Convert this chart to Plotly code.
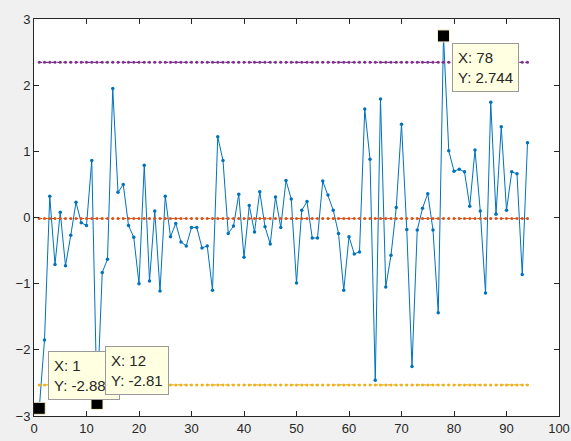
import plotly.graph_objects as go

# ---- data ----
x_vals = list(range(1, 95))
y_vals = [
    -2.884, -1.85, 0.32, -0.71, 0.08, -0.73, -0.27, 0.23, -0.08, -0.12,
    0.86, -2.81, -0.83, -0.63, 1.95, 0.38, 0.50, -0.12, -0.30, -1.00,
    0.79, -0.96, 0.10, -1.11, 0.32, -0.29, -0.09, -0.37, -0.43, -0.15,
    -0.15, -0.46, -0.43, -1.10, 1.22, 0.86, -0.24, -0.13, 0.35, -0.60,
    0.18, -0.22, 0.39, -0.14, -0.40, 0.31, -0.15, 0.56, 0.28, -0.99,
    0.11, 0.24, -0.31, -0.31, 0.55, 0.34, 0.11, -0.24, -1.10, -0.29,
    -0.55, -0.52, 1.64, 0.88, -2.46, 1.79, -1.05, -0.57, 0.15, 1.41,
    -0.18, -2.25, -0.19, 0.14, 0.36, -0.19, -1.44, 2.744, 1.01, 0.70,
    0.73, 0.69, 0.17, 1.02, 0.10, -1.14, 1.74, 0.05, 1.37, 0.11,
    0.69, 0.66, -0.86, 1.13,
]
mean_level = -0.015
lower_level = -2.53
upper_level = 2.345
tip_indices = [1, 12, 78]

x_ticks = list(range(0, 101, 10))
y_ticks = list(range(-3, 4))

# ---- styles ----
BLUE = "#0072BD"
RED = "#D95319"
YELLOW = "#EDB120"
PURPLE = "#7E2F8E"
AXC = "#262626"
BG = "#F0F0F0"
FONT = "Liberation Sans, Arial, sans-serif"

fig = go.Figure()

fig.add_trace(go.Scatter(
    x=x_vals, y=y_vals, mode="lines+markers",
    line=dict(color=BLUE, width=1),
    marker=dict(color=BLUE, size=3.5),
    hoverinfo="skip",
))

for level, col in [(mean_level, RED), (lower_level, YELLOW), (upper_level, PURPLE)]:
    fig.add_trace(go.Scatter(
        x=x_vals, y=[level] * len(x_vals), mode="lines+markers",
        line=dict(color=col, width=1.2, dash="dot"),
        marker=dict(color=col, size=3),
        hoverinfo="skip",
    ))

tip_x = tip_indices
tip_y = [y_vals[i - 1] for i in tip_indices]

fig.add_trace(go.Scatter(
    x=tip_x, y=tip_y, mode="markers",
    marker=dict(symbol="square", size=12, color="black",
                line=dict(color="#F5F0C8", width=1)),
    hoverinfo="skip",
))

# datatip boxes
tip_pos = {1: ("bottom", 9, 8), 12: ("bottom", 8, 8), 78: ("top", 8, -7)}
for xi, yi in zip(tip_x, tip_y):
    yanchor, xs, ys = tip_pos[xi]
    fig.add_annotation(
        x=xi, y=yi, xref="x", yref="y",
        text=f"X: {xi}<br>Y: {yi:.4g}",
        showarrow=False, xanchor="left", yanchor=yanchor,
        xshift=xs, yshift=ys, align="left",
        font=dict(family=FONT, size=15, color=AXC),
        bgcolor="#FFFFE1", bordercolor="#9A9A9A", borderwidth=1, borderpad=5,
    )

axis_common = dict(
    showgrid=False, zeroline=False, showline=True, linecolor=AXC, linewidth=1,
    mirror="ticks", ticks="inside", ticklen=5, tickcolor=AXC, automargin=False,
    tickfont=dict(family=FONT, size=13, color=AXC),
)

fig.update_layout(
    width=571, height=441,
    margin=dict(l=34, r=12, t=19, b=25),
    paper_bgcolor=BG, plot_bgcolor="white",
    showlegend=False,
    xaxis=dict(range=[0, 100], tickvals=x_ticks, **axis_common),
    yaxis=dict(range=[-3, 3], tickvals=y_ticks, **axis_common),
)

fig.write_html(
    "out.html",
    config={"displayModeBar": False},
    post_script="document.body.style.margin='0';document.body.style.overflow='hidden';"
                "document.body.style.background='" + BG + "';",
)
